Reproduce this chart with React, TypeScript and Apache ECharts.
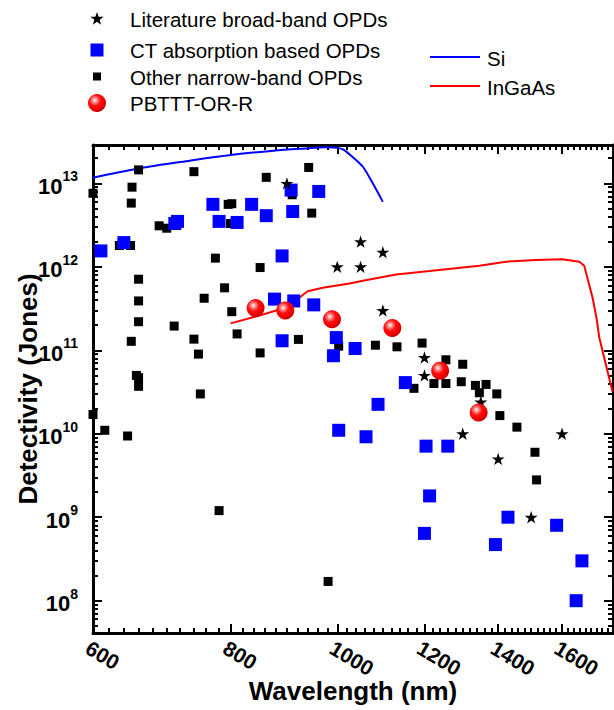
import React, { useEffect, useRef } from "react";
import * as echarts from "echarts";

const FONT = '"Liberation Sans", Arial, Helvetica, sans-serif';

// axis ranges (nm, Jones)
const X_MIN = 600;
const X_MAX = 1780;
const Y_MIN = 4.1e7;
const Y_MAX = 2.88e13;

const xTickLabels = [600, 800, 1000, 1200, 1400, 1600];
const yTickExponents = [8, 9, 10, 11, 12, 13];

// Literature broad-band OPDs [wavelength nm, detectivity Jones]
const literature: [number, number][] = [
  [900, 1e13], [1000, 1e12], [1050, 2e12], [1100, 1.5e12], [1050, 1e12],
  [1100, 3e11], [1200, 8.2e10], [1200, 5e10], [1350, 2.4e10], [1300, 1e10],
  [1600, 1e10], [1400, 5e9], [1500, 1e9],
];

// CT absorption based OPDs
const ctAbsorption: [number, number][] = [
  [610, 1.55e12], [640, 1.95e12], [712, 3.3e12], [716, 3.5e12], [771, 5.6e12],
  [781, 3.5e12], [811, 3.4e12], [836, 5.6e12], [862, 4.1e12], [891, 1.35e12],
  [908, 8.3e12], [911, 4.6e12], [962, 8.0e12], [877, 4.1e11], [913, 3.9e11],
  [952, 3.5e11], [891, 1.3e11], [998, 1.42e11], [992, 8.6e10], [1038, 1.05e11],
  [1089, 2.25e10], [1153, 4.1e10], [1003, 1.1e10], [1062, 9.2e9], [1204, 7.1e9],
  [1260, 7.1e9], [1213, 1.8e9], [1200, 6.4e8], [1429, 1.0e9], [1392, 4.7e8],
  [1582, 8.0e8], [1668, 3.0e8], [1648, 1.0e8],
];

// Other narrow-band OPDs
const otherNarrow: [number, number][] = [
  [600, 7.6e12], [660, 1.45e13], [741, 1.38e13], [862, 1.18e13], [942, 1.55e13],
  [651, 9.0e12], [650, 5.8e12], [796, 5.6e12], [802, 5.7e12], [800, 3.3e12],
  [910, 7.3e12], [948, 4.4e12], [689, 3.1e12], [700, 2.9e12], [634, 1.8e12],
  [649, 1.8e12], [775, 1.27e12], [851, 9.8e11], [660, 7.1e11], [790, 5.6e11],
  [757, 4.2e11], [660, 3.9e11], [802, 2.9e11], [660, 2.2e11], [711, 1.95e11],
  [811, 1.57e11], [650, 1.28e11], [741, 1.36e11], [922, 1.35e11], [748, 9.0e10],
  [851, 9.3e10], [1003, 1.12e11], [657, 5.0e10], [660, 4.7e10], [660, 3.7e10],
  [751, 3.0e10], [600, 1.7e10], [615, 1.1e10], [645, 9.4e9], [781, 1.2e9],
  [1083, 1.15e11], [1133, 1.1e11], [1194, 1.22e11], [1255, 7.7e10], [1300, 6.8e10],
  [1174, 3.5e10], [1224, 4.0e10], [1255, 4.0e10], [1296, 4.2e10], [1335, 3.8e10],
  [1365, 3.9e10], [1346, 3.1e10], [1396, 3.0e10], [1405, 1.65e10], [1456, 1.2e10],
  [1512, 6.0e9], [1517, 2.8e9], [981, 1.7e8],
];

// PBTTT-OR-R
const pbttt: [number, number][] = [
  [843, 3.2e11], [897, 3.0e11], [989, 2.35e11], [1122, 1.85e11], [1240, 5.7e10], [1344, 1.8e10],
];

// Si reference detector
const siCurve: [number, number][] = [
  [600, 1.17e13], [660, 1.51e13], [735, 1.87e13], [800, 2.18e13], [875, 2.46e13],
  [937, 2.62e13], [975, 2.70e13], [1000, 2.66e13], [1012, 2.55e13], [1032, 2.08e13],
  [1055, 1.58e13], [1077, 1.0e13], [1100, 6.0e12],
];

// InGaAs reference detector
const ingaasCurve: [number, number][] = [
  [800, 2.1e11], [845, 2.55e11], [880, 3.0e11], [918, 4.0e11], [940, 5.1e11],
  [970, 5.6e11], [1026, 6.3e11], [1055, 6.8e11], [1131, 8.1e11], [1213, 8.9e11],
  [1346, 1.03e12], [1423, 1.15e12], [1515, 1.21e12], [1600, 1.23e12], [1659, 1.15e12],
  [1676, 1.03e12], [1706, 4.2e11], [1720, 2.4e11], [1730, 1.4e11], [1778, 3.2e10],
];

const lg = (v: number) => Math.log10(v);
const toLog = (arr: [number, number][]) => arr.map((p) => [lg(p[0]), lg(p[1])]);

const STAR =
  "path://M0,-10L2.245,-3.09L9.511,-3.09L3.633,1.18L5.878,8.09L0,3.82L-5.878,8.09L-3.633,1.18L-9.511,-3.09L-2.245,-3.09Z";

function sphereGradient() {
  return new echarts.graphic.RadialGradient(0.38, 0.35, 0.62, [
    { offset: 0, color: "#ffffff" },
    { offset: 0.18, color: "#ff9a9a" },
    { offset: 0.5, color: "#ff1010" },
    { offset: 0.85, color: "#f00000" },
    { offset: 1, color: "#c80000" },
  ]);
}

function starPoints(cx: number, cy: number, r: number) {
  const pts: number[][] = [];
  for (let i = 0; i < 10; i++) {
    const rr = i % 2 === 0 ? r : r * 0.4;
    const a = -Math.PI / 2 + (i * Math.PI) / 5;
    pts.push([cx + rr * Math.cos(a), cy + rr * Math.sin(a)]);
  }
  return pts;
}

export default function App() {
  const ref = useRef<HTMLDivElement>(null);

  useEffect(() => {
    document.body.style.margin = "0";
    const chart = echarts.init(ref.current!, null, { renderer: "svg" });

    const xMin = lg(X_MIN);
    const xMax = lg(X_MAX);
    const yMin = lg(Y_MIN);
    const yMax = lg(Y_MAX);

    const xMajor = xTickLabels.map(lg);
    const xMinor: number[] = [];
    for (let w = X_MIN; w <= X_MAX; w += 20) {
      if (!xTickLabels.includes(w)) xMinor.push(lg(w));
    }
    const yMajor = yTickExponents.slice();
    const yMinor: number[] = [];
    for (let e = 7; e <= 13; e++) {
      for (let m = 2; m <= 9; m++) {
        const v = m * Math.pow(10, e);
        if (v >= Y_MIN && v <= Y_MAX) yMinor.push(lg(v));
      }
    }

    const lineStyle = { color: "#000", width: 3 };
    const hidden = {
      splitLine: { show: false },
      axisLabel: { show: false },
      axisTick: { show: false },
      axisLine: { show: false },
    };
    const tick = (vals: number[], len: number) => ({
      show: true,
      inside: true,
      length: len,
      customValues: vals,
      lineStyle: { color: "#000", width: 2 },
    });

    const xBase = { type: "value", min: xMin, max: xMax, ...hidden };
    const yBase = { type: "value", min: yMin, max: yMax, ...hidden };

    const axisTitle = { fontSize: 26, fontWeight: "bold", color: "#000", fontFamily: FONT };

    const legendRows = [
      { y: 19, label: "Literature broad-band OPDs" },
      { y: 50, label: "CT absorption based OPDs" },
      { y: 77, label: "Other narrow-band OPDs" },
      { y: 103, label: "PBTTT-OR-R" },
    ];
    const legendText = { fontSize: 20.5, fontFamily: FONT, fill: "#000", verticalAlign: "middle", align: "left" };

    const option: any = {
      animation: false,
      backgroundColor: "#fff",
      grid: { left: 93, right: 1, top: 145, bottom: 77, outerBoundsMode: "none" },
      xAxis: [
        {
          ...xBase,
          position: "bottom",
          axisLine: { show: true, onZero: false, lineStyle },
          axisTick: tick(xMajor, 9),
          axisLabel: {
            show: true,
            customValues: xMajor,
            formatter: (v: number) => String(Math.round(Math.pow(10, v))),
            rotate: -31,
            align: "left",
            verticalAlign: "top",
            margin: 4,
            fontSize: 21,
            fontWeight: "bold",
            color: "#000",
            fontFamily: FONT,
          },
          name: "Wavelength (nm)",
          nameLocation: "middle",
          nameGap: 45,
          nameMoveOverlap: false,
          nameTextStyle: axisTitle,
        },
        { ...xBase, position: "bottom", axisTick: tick(xMinor, 5) },
        {
          ...xBase,
          position: "top",
          axisLine: { show: true, onZero: false, lineStyle },
          axisTick: tick(xMajor, 9),
        },
        { ...xBase, position: "top", axisTick: tick(xMinor, 5) },
      ],
      yAxis: [
        {
          ...yBase,
          position: "left",
          axisLine: { show: true, onZero: false, lineStyle },
          axisTick: tick(yMajor, 9),
          axisLabel: {
            show: true,
            customValues: yMajor,
            formatter: (v: number) => `{b|10}{s|${Math.round(v)}}`,
            margin: 15,
            color: "#000",
            rich: {
              b: { fontSize: 22, fontWeight: "bold", fontFamily: FONT, color: "#000", padding: [6, 0, 0, 0], verticalAlign: "bottom" },
              s: { fontSize: 14, fontWeight: "bold", fontFamily: FONT, color: "#000", verticalAlign: "top" },
            },
          },
          name: "Detectivity (Jones)",
          nameLocation: "middle",
          nameGap: 52,
          nameMoveOverlap: false,
          nameTextStyle: axisTitle,
        },
        { ...yBase, position: "left", axisTick: tick(yMinor, 5) },
        {
          ...yBase,
          position: "right",
          axisLine: { show: true, onZero: false, lineStyle },
          axisTick: tick(yMajor, 9),
        },
        { ...yBase, position: "right", axisTick: tick(yMinor, 5) },
      ],
      series: [
        {
          name: "Si",
          type: "line",
          data: toLog(siCurve),
          showSymbol: false,
          smooth: 0.3,
          lineStyle: { color: "#0000ff", width: 2 },
          z: 1,
        },
        {
          name: "InGaAs",
          type: "line",
          data: toLog(ingaasCurve),
          showSymbol: false,
          lineStyle: { color: "#ff0000", width: 2 },
          z: 1,
        },
        {
          name: "Other narrow-band OPDs",
          type: "scatter",
          data: toLog(otherNarrow),
          symbol: "rect",
          symbolSize: 9,
          clip: false,
          itemStyle: { color: "#000", opacity: 1 },
          z: 2,
        },
        {
          name: "CT absorption based OPDs",
          type: "scatter",
          data: toLog(ctAbsorption),
          symbol: "rect",
          symbolSize: 13,
          clip: false,
          itemStyle: { color: "#0000ff", opacity: 1 },
          z: 3,
        },
        {
          name: "Literature broad-band OPDs",
          type: "scatter",
          data: toLog(literature),
          symbol: STAR,
          symbolSize: 13,
          symbolKeepAspect: true,
          clip: false,
          itemStyle: { color: "#000", opacity: 1 },
          z: 4,
        },
        {
          name: "PBTTT-OR-R",
          type: "scatter",
          data: toLog(pbttt),
          symbol: "circle",
          symbolSize: 18,
          clip: false,
          itemStyle: { color: sphereGradient(), opacity: 1 },
          z: 5,
        },
      ],
      graphic: [
        { type: "polygon", shape: { points: starPoints(97, 19, 7) }, style: { fill: "#000" } },
        { type: "rect", shape: { x: 90.5, y: 43.5, width: 13, height: 13 }, style: { fill: "#0000ff" } },
        { type: "rect", shape: { x: 93, y: 72.5, width: 8, height: 8 }, style: { fill: "#000" } },
        { type: "circle", shape: { cx: 97, cy: 103, r: 9 }, style: { fill: sphereGradient() } },
        ...legendRows.map((r) => ({
          type: "text",
          x: 130,
          y: r.y,
          style: { text: r.label, ...legendText },
        })),
        { type: "line", shape: { x1: 430, y1: 57, x2: 480, y2: 57 }, style: { stroke: "#0000ff", lineWidth: 2 } },
        { type: "line", shape: { x1: 430, y1: 86, x2: 480, y2: 86 }, style: { stroke: "#ff0000", lineWidth: 2 } },
        { type: "text", x: 487, y: 58, style: { text: "Si", ...legendText } },
        { type: "text", x: 487, y: 87, style: { text: "InGaAs", ...legendText } },
      ],
    };

    chart.setOption(option);
    return () => chart.dispose();
  }, []);

  return <div ref={ref} style={{ width: 614, height: 710 }} />;
}
